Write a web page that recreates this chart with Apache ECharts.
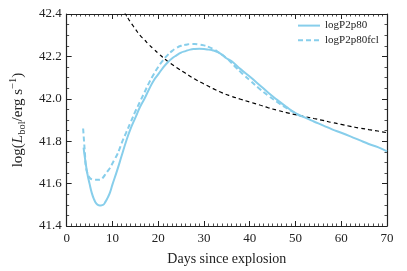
<!DOCTYPE html>
<html>
<head>
<meta charset="utf-8">
<script src="https://cdn.jsdelivr.net/npm/echarts@6/dist/echarts.min.js"></script>
<style>html,body{margin:0;padding:0;background:#fff;}#c{width:407px;height:271px;}</style>
</head>
<body>
<div id="c"></div>
<script>
// logP2p80 (solid)
const solidX = [3.7,4.0,4.5,5.0,5.5,6.0,6.5,7.0,7.5,8.0,8.5,9.0,9.5,10,11,12,13,14,15,16,17,18,19,20,21,22,23,24,25,26,27,28,29,30,31,32,33,34,35,36,38,40,42,44,46,48,50,52,54,56,58,60,62,64,66,68,70];
const solidY = [41.77,41.72,41.65,41.60,41.555,41.525,41.505,41.498,41.497,41.50,41.515,41.535,41.56,41.595,41.66,41.73,41.80,41.86,41.91,41.96,42.0,42.045,42.085,42.115,42.145,42.17,42.19,42.205,42.218,42.225,42.232,42.235,42.236,42.235,42.232,42.228,42.22,42.207,42.19,42.178,42.14,42.105,42.068,42.03,41.995,41.962,41.933,41.912,41.893,41.875,41.856,41.84,41.823,41.805,41.787,41.772,41.752];
// logP2p80fcl (dashed)
const dashX = [3.6,3.8,4.0,4.2,4.6,5.0,5.5,6,7,7.5,8,8.5,9,9.5,10,10.5,11,11.5,12,13,14,15,16,17,18,19,20,21,22,23,24,25,26,27,28,29,30,31,32,33,34,35,36,37,38,39,40,42,44,46,48,50,51];
const dashY = [41.86,41.80,41.74,41.68,41.645,41.628,41.62,41.618,41.618,41.62,41.63,41.645,41.66,41.675,41.695,41.715,41.735,41.76,41.79,41.84,41.89,41.94,41.985,42.03,42.075,42.115,42.15,42.18,42.205,42.225,42.24,42.25,42.255,42.258,42.258,42.256,42.252,42.245,42.235,42.222,42.207,42.19,42.17,42.148,42.127,42.107,42.088,42.05,42.015,41.985,41.957,41.932,41.92];
// reference black dashed curve
const refX = [12.6,13,14,15,16,17,18,19,20,22,24,26,28,30,32,34,36,38,40,42,44,46,48,50,52,54,56,58,60,62,64,66,68,70];
const refY = [42.41,42.395,42.36,42.33,42.30,42.278,42.255,42.235,42.215,42.178,42.148,42.12,42.093,42.07,42.048,42.028,42.012,41.998,41.985,41.972,41.958,41.946,41.935,41.925,41.916,41.907,41.898,41.888,41.879,41.87,41.862,41.855,41.848,41.84];
const seriesNames = ['logP2p80','logP2p80fcl'];
const xTicks = {min:0, max:70, interval:10};
const yTicks = {min:41.4, max:42.4, interval:0.2};

const zip = (xs, ys) => xs.map((x,i)=>[x, ys[i]]);
const FONT = '"Liberation Serif", "DejaVu Serif", serif';
const AX = '#222';
const blue = '#87CEEB';

function xAxisCfg(pos, showLabel){
  return {
    type:'value', position:pos, min:xTicks.min, max:xTicks.max, interval:xTicks.interval,
    axisLine:{show:true, onZero:false, lineStyle:{color:AX, width:1.2}},
    axisTick:{show:true, inside:true, length:5, lineStyle:{color:AX, width:1}},
    minorTick:{show:true, splitNumber:10, length:2.5, lineStyle:{color:AX, width:0.8}},
    splitLine:{show:false},
    axisLabel:{show:showLabel, margin:6, color:'#222', fontFamily:FONT, fontSize:13},
    name: showLabel ? 'Days since explosion' : '',
    nameLocation:'middle', nameGap:26,
    nameTextStyle:{color:'#222', fontFamily:FONT, fontSize:14}
  };
}
function yAxisCfg(pos, showLabel){
  return {
    type:'value', position:pos, min:yTicks.min, max:yTicks.max, interval:yTicks.interval,
    axisLine:{show:true, onZero:false, lineStyle:{color:AX, width:1.2}},
    axisTick:{show:true, inside:true, length:5, lineStyle:{color:AX, width:1}},
    minorTick:{show:true, splitNumber:4, length:2.5, lineStyle:{color:AX, width:0.8}},
    splitLine:{show:false},
    axisLabel:{show:showLabel, margin:5, color:'#222', fontFamily:FONT, fontSize:13,
      formatter:v=>v.toFixed(1)},
    name: showLabel ? '{a|log(}{i|L}{s|bol}{a|/erg s}{p|−1}{a|)}' : '',
    nameLocation:'middle', nameGap:30, nameRotate:90,
    nameTextStyle:{color:'#222', fontFamily:FONT, fontSize:15,
      rich:{
        a:{fontFamily:FONT, fontSize:15, lineHeight:20, verticalAlign:'middle', color:'#222'},
        i:{fontFamily:FONT, fontSize:15, fontStyle:'italic', lineHeight:20, verticalAlign:'middle', color:'#222'},
        s:{fontFamily:FONT, fontSize:10.5, lineHeight:11, verticalAlign:'bottom', color:'#222'},
        p:{fontFamily:FONT, fontSize:10.5, lineHeight:11, verticalAlign:'top', color:'#222'}
      }}
  };
}

const chart = echarts.init(document.getElementById('c'), null, {renderer:'canvas'});
chart.setOption({
  animation:false,
  backgroundColor:'#fff',
  grid:{left:61, right:20, top:14, bottom:42, containLabel:false},
  xAxis:[xAxisCfg('bottom', true), xAxisCfg('top', false)],
  yAxis:[yAxisCfg('left', true), yAxisCfg('right', false)],
  legend:{
    data:seriesNames, orient:'vertical', left:297, top:20, padding:0,
    itemWidth:22, itemHeight:14, itemGap:3.5,
    itemStyle:{opacity:0},
    textStyle:{fontFamily:FONT, fontSize:11, color:'#222'}
  },
  series:[
    {name:'reference', type:'line', data:zip(refX, refY), symbol:'none', clip:true, smooth:true,
      lineStyle:{color:'#000', width:1.2, type:[4,3]}, z:1},
    {name:seriesNames[0], type:'line', data:zip(solidX, solidY), symbol:'none', smooth:true,
      itemStyle:{color:blue}, lineStyle:{color:blue, width:2}, z:3},
    {name:seriesNames[1], type:'line', data:zip(dashX, dashY), symbol:'none', smooth:true,
      itemStyle:{color:blue}, lineStyle:{color:blue, width:2, type:[5,3]}, z:2}
  ]
});
</script>
</body>
</html>
